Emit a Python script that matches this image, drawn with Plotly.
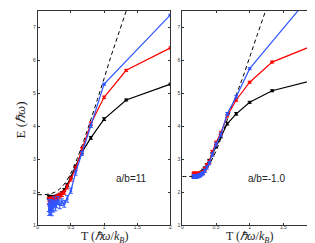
import plotly.graph_objects as go

# Temperatures (hbar*omega/k_B)
T = [2, 1.333, 1, 0.8, 0.667, 0.571, 0.5, 0.444, 0.4, 0.364, 0.333, 0.308,
     0.286, 0.267, 0.25, 0.235, 0.222, 0.211, 0.2, 0.19, 0.182, 0.174, 0.167]

# Left panel a/b=11
L_black = [5.28, 4.80, 4.22, 3.65, 3.22, 2.78, 2.45, 2.22, 2.07, 1.98, 1.93, 1.90,
           1.88, 1.87, 1.86, 1.85, 1.85, 1.86, 1.85, 1.85, 1.86, 1.85, 1.86]
L_black_err = [0.03, 0.03, 0.04, 0.04, 0.05, 0.04, 0.04, 0.04, 0.04, 0.04, 0.04, 0.04,
               0.04, 0.04, 0.04, 0.04, 0.04, 0.04, 0.05, 0.05, 0.05, 0.05, 0.05]
L_red = [6.38, 5.70, 4.88, 4.08, 3.30, 2.72, 2.40, 2.16, 2.00, 1.94, 1.90, 1.86,
         1.83, 1.80, 1.79, 1.76, 1.78, 1.74, 1.76, 1.72, 1.75, 1.73, 1.75]
L_red_err = [0.03, 0.03, 0.04, 0.05, 0.06, 0.06, 0.06, 0.06, 0.06, 0.07, 0.07, 0.07,
             0.07, 0.08, 0.08, 0.08, 0.08, 0.08, 0.09, 0.09, 0.09, 0.09, 0.1]
L_blue = [7.38, None, 5.28, 4.02, 3.18, 2.60, 2.05, 1.80, 1.65, 1.70, 1.62, 1.75,
          1.65, 1.58, 1.72, 1.55, 1.60, 1.45, 1.62, 1.50, 1.55, 1.48, 1.60]
L_blue_err = [0.02, 0.02, 0.03, 0.05, 0.06, 0.08, 0.08, 0.1, 0.1, 0.1, 0.12, 0.12,
              0.12, 0.14, 0.14, 0.15, 0.15, 0.16, 0.16, 0.17, 0.17, 0.18, 0.18]
L_dash_T = [0, 0.1, 0.2, 0.3, 0.4, 0.5, 0.6, 0.7, 0.8, 0.9, 1.0, 1.1, 1.2, 1.333, 1.4]
L_dash_E = [1.93, 1.93, 1.96, 2.05, 2.25, 2.58, 3.05, 3.6, 4.2, 4.82, 5.45, 6.1, 6.7, 7.5, 7.9]

# Right panel a/b=-1.0
R_black = [5.43, 5.08, 4.73, 4.38, 4.08, 3.70, 3.40, 3.15, 2.95, 2.82, 2.72, 2.65,
           2.60, 2.56, 2.54, 2.52, 2.51, 2.50, 2.50, 2.50, 2.50, 2.49, 2.50]
R_red = [6.50, 5.95, 5.34, 4.80, 4.32, 3.80, 3.50, 3.22, 2.92, 2.82, 2.70, 2.60,
         2.58, 2.55, 2.55, 2.57, 2.54, 2.56, 2.55, 2.56, 2.55, 2.57, 2.55]
R_blue = [8.20, None, 5.75, 4.90, 4.38, 3.75, 3.45, 3.15, 2.88, 2.75, 2.65, 2.58,
          2.55, 2.52, 2.50, 2.50, 2.48, 2.48, 2.47, 2.48, 2.47, 2.48, 2.47]
R_err = [0.02, 0.03, 0.03, 0.04, 0.04, 0.05, 0.05, 0.05, 0.05, 0.05, 0.05, 0.05,
         0.05, 0.05, 0.05, 0.05, 0.05, 0.05, 0.05, 0.05, 0.05, 0.05, 0.05]
R_dash_T = [0, 0.1, 0.2, 0.3, 0.4, 0.5, 0.6, 0.7, 0.8, 0.9, 1.0, 1.1, 1.235, 1.3]
R_dash_E = [2.48, 2.48, 2.5, 2.6, 2.85, 3.25, 3.8, 4.4, 4.95, 5.5, 6.1, 6.7, 7.5, 7.9]

x_ticks = [0, 0.5, 1, 1.5, 2]
x_ticklabels = ["0", "0.5", "1", "1.5", "2"]
y_ticks = [1, 2, 3, 4, 5, 6, 7]
labels = ["a/b=11", "a/b=-1.0"]

BLUE = "#2f55ff"
RED = "#ff0000"
BLACK = "#000000"

fig = go.Figure()


def series(x, y, err, color, xa, ya):
    fig.add_trace(go.Scatter(
        x=x, y=y, mode="lines+markers", xaxis=xa, yaxis=ya, connectgaps=True,
        line=dict(color=color, width=1.2),
        marker=dict(color=color, size=2.5, symbol="square"),
        error_y=dict(type="data", array=err, color=color, thickness=1, width=2),
        showlegend=False))


def dashed(x, y, xa, ya):
    fig.add_trace(go.Scatter(
        x=x, y=y, mode="lines", xaxis=xa, yaxis=ya, line_shape="spline",
        line=dict(color=BLACK, width=1, dash="4px,3px"), showlegend=False))


dashed(L_dash_T, L_dash_E, "x", "y")
series(T, L_black, L_black_err, BLACK, "x", "y")
series(T, L_red, L_red_err, RED, "x", "y")
series(T, L_blue, L_blue_err, BLUE, "x", "y")

dashed(R_dash_T, R_dash_E, "x2", "y2")
series(T, R_black, R_err, BLACK, "x2", "y2")
series(T, R_red, R_err, RED, "x2", "y2")
series(T, R_blue, R_err, BLUE, "x2", "y2")

ax_common = dict(showline=True, linecolor="#333333", linewidth=1, mirror="ticks",
                 ticks="inside", ticklen=2, tickcolor="#333333", showgrid=False,
                 zeroline=False, tickfont=dict(size=5, color="#333333", family="Liberation Sans"))
y0, y1 = 23 / 243, 240 / 243
fig.update_layout(
    width=315, height=243, margin=dict(l=0, r=0, t=0, b=0),
    paper_bgcolor="white", plot_bgcolor="white",
    xaxis=dict(domain=[29 / 315, 163 / 315], range=[0, 2], tickvals=x_ticks,
               ticktext=x_ticklabels, anchor="y", ticklabelstandoff=-3, **ax_common),
    yaxis=dict(domain=[y0, y1], range=[1, 7.5], tickvals=y_ticks, anchor="x", **ax_common),
    xaxis2=dict(domain=[175 / 315, 311 / 315], range=[0, 2], tickvals=x_ticks,
                ticktext=x_ticklabels, anchor="y2", ticklabelstandoff=-3, **ax_common),
    yaxis2=dict(domain=[y0, y1], range=[1, 7.5], tickvals=y_ticks, anchor="x2", **ax_common),
)

serif = dict(family="Liberation Serif", size=13, color="#222222")
serif_x = dict(family="Liberation Serif", size=12, color="#222222")
fig.add_annotation(text="E (<i>ℏω</i>)", x=12 / 315, y=1 - 113 / 243, xref="paper", yref="paper",
                   textangle=-90, showarrow=False, font=serif, xanchor="center", yanchor="middle")
fig.add_annotation(text="T (<i>ℏω</i>/<i>k<sub>B</sub></i>)", x=1, y=0, xref="x", yref="paper",
                   showarrow=False, font=serif_x, xanchor="center", yanchor="bottom", yshift=1)
fig.add_annotation(text="T (<i>ℏω</i>/<i>k<sub>B</sub></i>)", x=1, y=0, xref="x2", yref="paper",
                   showarrow=False, font=serif_x, xanchor="center", yanchor="bottom", yshift=1)
fig.add_annotation(text=labels[0], x=1.41, y=2.41, xref="x", yref="y", showarrow=False,
                   font=dict(family="Liberation Sans", size=10, color="#222222"))
fig.add_annotation(text=labels[1], x=1.25, y=2.41, xref="x2", yref="y2", showarrow=False,
                   font=dict(family="Liberation Sans", size=10, color="#222222"))

fig.write_html("out.html")
